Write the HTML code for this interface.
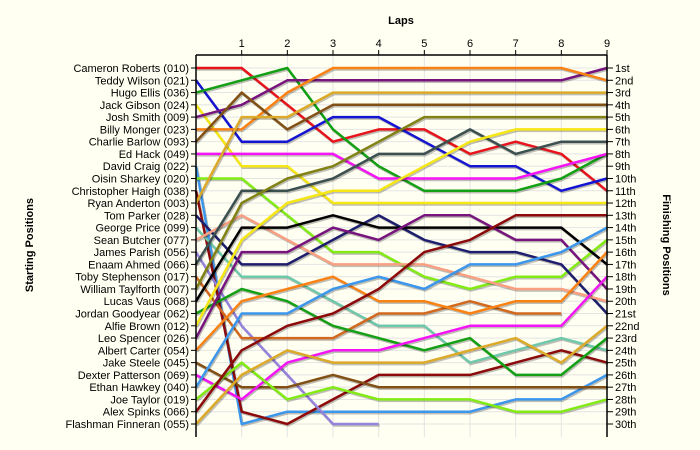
<!DOCTYPE html>
<html><head><meta charset="utf-8">
<style>
html,body{margin:0;padding:0;background:#fffff2;}
svg{display:block;font-family:"Liberation Sans",Arial,sans-serif;}
</style></head>
<body>
<svg id="chart" width="700" height="450" viewBox="0 0 700 450">
  <rect x="0" y="0" width="700" height="450" fill="#fffff2"/>
  <text x="401" y="24" font-size="11" font-weight="bold" text-anchor="middle">Laps</text>
  <text transform="translate(33,245) rotate(-90)" font-size="11" font-weight="bold" text-anchor="middle">Starting Positions</text>
  <text transform="translate(663,245) rotate(90)" font-size="11" font-weight="bold" text-anchor="middle">Finishing Positions</text>
  <g id="grid"></g>
  <g id="series"></g>
  <g id="axes"></g>
</svg>
<script>
const laps = [0,1,2,3,4,5,6,7,8,9];
const drivers = ["Cameron Roberts (010)","Teddy Wilson (021)","Hugo Ellis (036)","Jack Gibson (024)","Josh Smith (009)","Billy Monger (023)","Charlie Barlow (093)","Ed Hack (049)","David Craig (022)","Oisin Sharkey (020)","Christopher Haigh (038)","Ryan Anderton (003)","Tom Parker (028)","George Price (099)","Sean Butcher (077)","James Parish (056)","Enaam Ahmed (066)","Toby Stephenson (017)","William Taylforth (007)","Lucas Vaus (068)","Jordan Goodyear (062)","Alfie Brown (012)","Leo Spencer (026)","Albert Carter (054)","Jake Steele (045)","Dexter Patterson (069)","Ethan Hawkey (040)","Joe Taylor (019)","Alex Spinks (066)","Flashman Finneran (055)"];
const finishLabels = ["1st","2nd","3rd","4th","5th","6th","7th","8th","9th","10th","11th","12th","13th","14th","15th","16th","17th","18th","19th","20th","21st","22nd","23rd","24th","25th","26th","27th","28th","29th","30th"];
const colors = ["#e8141c","#1414d2","#14a014","#f5e614","#78147d","#fa8214","#825014","#f514f5","#3c96eb","#82eb14","#8c0a0a","#dcaa28","#1e1e6e","#6ec8aa","#faa082","#9682dc","#3c5050","#d2691e","#828214","#000000","#14a014","#f5e614","#78147d","#fa8214","#825014","#f514f5","#3c96eb","#82eb14","#8c0a0a","#dcaa28"];
const p01 = [1,1,4,7,6,6,8,7,8,11];
const p02 = [2,7,7,5,5,7,9,9,11,10];
const p03 = [3,2,1,6,9,11,11,11,10,8];
const p04 = [4,9,9,12,12,12,12,12,12,12];
const p05 = [5,4,2,2,2,2,2,2,2,1];
const p06 = [6,6,3,1,1,1,1,1,1,2];
const p07 = [7,3,6,4,4,4,4,4,4,4];
const p08 = [8,8,8,8,10,10,10,10,9,8];
const p09 = [9,30,29,29,29,29,29,28,28,26];
const p10 = [10,10,13,16,16,18,19,18,18,15];
const p11 = [11,29,30,28,26,26,26,25,24,25];
const p12 = [12,5,5,3,3,3,3,3,3,3];
const p13 = [13,17,17,15,13,15,16,16,17,21];
const p14 = [14,18,18,20,22,22,25,24,23,24];
const p15 = [15,13,15,17,17,17,18,19,19,20];
const p16 = [16,22,26,30,30];
const p17 = [17,11,11,10,8,8,6,8,7,7];
const p18 = [18,23,23,23,21,21,20,21,21];
const p19 = [19,12,10,9,7,5,5,5,5,5];
const p20 = [20,14,14,13,14,14,14,14,14,17];
const p21 = [21,19,20,22,23,24,23,26,26,23];
const p22 = [22,15,12,11,11,9,7,6,6,6];
const p23 = [23,16,16,14,15,13,13,15,15,19];
const p24 = [24,20,19,18,20,20,21,20,20,16];
const p25 = [25,27,27,26,27,27,27,27,27,27];
const p26 = [26,28,25,24,24,23,22,22,22,18];
const p27 = [27,21,21,19,18,19,17,17,16,14];
const p28 = [28,25,28,27,28,28,28,29,29,28];
const p29 = [29,24,22,21,19,16,15,13,13,13];
const p30 = [30,26,24,25,25,25,24,23,25,22];
const positions = [p01,p02,p03,p04,p05,p06,p07,p08,p09,p10,p11,p12,p13,p14,p15,p16,p17,p18,p19,p20,p21,p22,p23,p24,p25,p26,p27,p28,p29,p30];

const NS = "http://www.w3.org/2000/svg";
const X0 = 196, X1 = 607, Y0 = 68, Y1 = 424, TOP = 55, BOT = 437;
const xs = l => X0 + (X1 - X0) * l / 9;
const ys = r => Y0 + (Y1 - Y0) * (r - 1) / 29;
function mk(tag, attrs, parent){ const e=document.createElementNS(NS,tag); for(const k in attrs) e.setAttribute(k,attrs[k]); parent.appendChild(e); return e; }

const grid = document.getElementById('grid');
laps.forEach(l => { if(l>0&&l<9){ const e=mk('line',{x1:xs(l),x2:xs(l),y1:TOP,y2:BOT,stroke:'#e4e4e4','stroke-width':1},grid);

 }});
for(let r=1;r<=30;r++){ const e=mk('line',{x1:X0,x2:X1,y1:ys(r),y2:ys(r),stroke:'#e4e4e4','stroke-width':1},grid);

 }

const sg = document.getElementById('series');
positions.forEach((arr,i) => {
  const d = arr.map((r,l)=>(l?'L':'M')+xs(l).toFixed(1)+','+ys(r).toFixed(1)).join(' ');
  const sh = mk('path',{d:d,fill:'none',stroke:'#000','stroke-opacity':0.25,'stroke-width':2.5,transform:'translate(1,1.5)','stroke-linejoin':'round'},sg);
  
  
  const p = mk('path',{d:d,fill:'none',stroke:colors[i],'stroke-width':2.5,'stroke-linejoin':'round'},sg);
  
  
});

const ax = document.getElementById('axes');
let e;
e = mk('line',{x1:X0,x2:X0,y1:TOP,y2:BOT,stroke:'#000','stroke-width':1.5},ax);


e = mk('line',{x1:X1,x2:X1,y1:TOP,y2:BOT,stroke:'#000','stroke-width':1.5},ax);


e = mk('line',{x1:X0,x2:X1,y1:TOP,y2:TOP,stroke:'#000','stroke-width':1.5},ax);


laps.forEach(l => {
  if(l===0) return;
  const t = mk('line',{x1:xs(l),x2:xs(l),y1:TOP-5,y2:TOP,stroke:'#000'},ax);
  
  
  const tx = mk('text',{x:xs(l),y:TOP-8,'font-size':11,'text-anchor':'middle'},ax);
  tx.textContent = String(l);
  
  
});
drivers.forEach((n,i) => {
  const y = ys(i+1);
  const t = mk('line',{x1:X0-5,x2:X0,y1:y,y2:y,stroke:'#000'},ax);
  
  
  const tx = mk('text',{x:X0-7,y:y+4,'font-size':11,'text-anchor':'end'},ax);
  tx.textContent = n;
  
  
});
finishLabels.forEach((n,i) => {
  const y = ys(i+1);
  const t = mk('line',{x1:X1,x2:X1+6,y1:y,y2:y,stroke:'#000'},ax);
  
  
  const tx = mk('text',{x:X1+8,y:y+4,'font-size':11,'text-anchor':'start'},ax);
  tx.textContent = n;
  
  
});
</script>
</body></html>
